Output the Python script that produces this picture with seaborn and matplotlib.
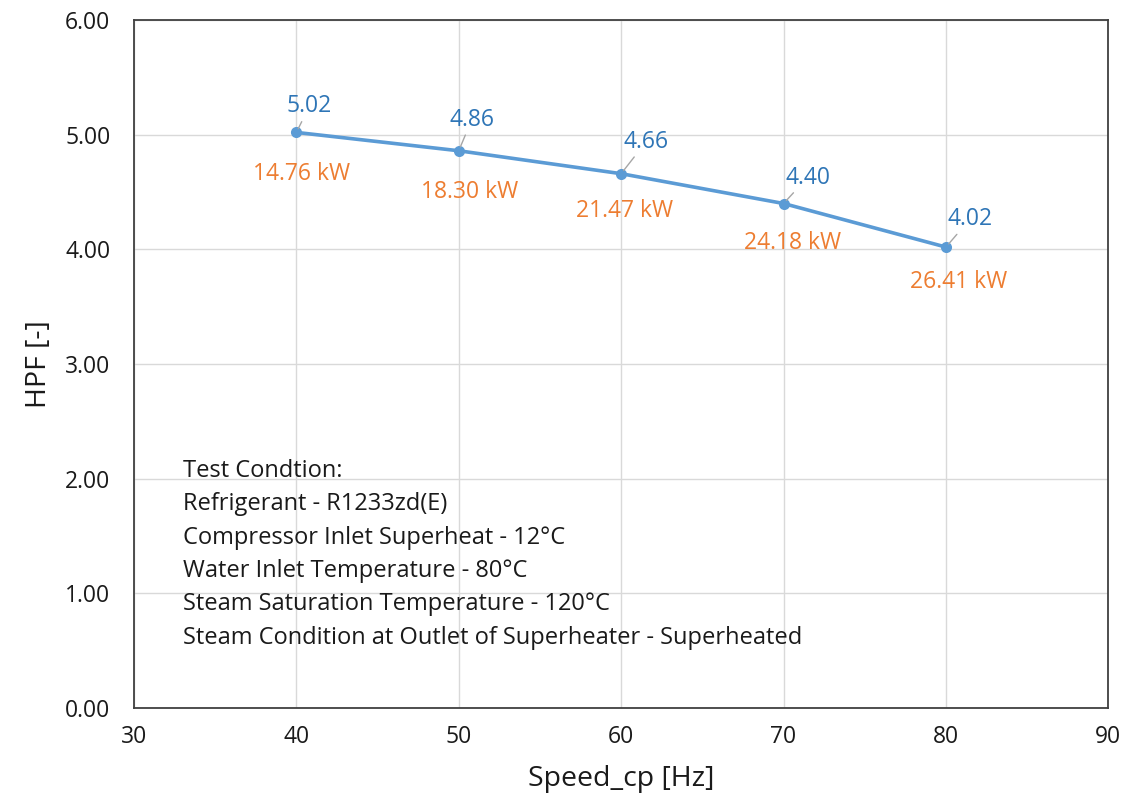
import pandas as pd
import matplotlib
matplotlib.use("Agg")
import matplotlib.pyplot as plt
import seaborn as sns

# ------------------------------------------------------------------
# dados
# ------------------------------------------------------------------
speed_hz = [40, 50, 60, 70, 80]
hpf = [5.02, 4.86, 4.66, 4.40, 4.02]
capacity_kw = [14.76, 18.30, 21.47, 24.18, 26.41]

x_ticks = [30, 40, 50, 60, 70, 80, 90]
y_ticks = [0, 1, 2, 3, 4, 5, 6]

note_lines = [
    "Test Condtion:",
    "Refrigerant - R1233zd(E)",
    "Compressor Inlet Superheat - 12°C",
    "Water Inlet Temperature - 80°C",
    "Steam Saturation Temperature - 120°C",
    "Steam Condition at Outlet of Superheater - Superheated",
]

# offsets (pixels) dos rótulos em relação aos pontos
hpf_offsets = [(13, 26), (13, 31), (25, 32), (24, 26), (24, 28)]
kw_offsets = [(5, -42), (11, -41), (3, -37), (9, -39), (13, -35)]

df = pd.DataFrame({"speed": speed_hz, "hpf": hpf, "kw": capacity_kw})

sns.set_theme(style="white")
plt.rcParams["font.family"] = ["Open Sans", "DejaVu Sans"]

line_blue = "#5B9BD5"
text_blue = "#2E75B6"
orange = "#ED7D31"
dark = "#404040"

fig = plt.figure(figsize=(11.45, 8.01), dpi=100)
ax = fig.add_axes([0.117, 0.116, 0.851, 0.859])

sns.lineplot(data=df, x="speed", y="hpf", ax=ax, color=line_blue, linewidth=2.6,
             marker="o", markersize=8, markeredgewidth=0, zorder=3)

for x, y, k, (hx, hy), (kx, ky) in zip(df["speed"], df["hpf"], df["kw"], hpf_offsets, kw_offsets):
    ax.annotate(f"{y:.2f}", (x, y), xytext=(hx, hy), textcoords="offset pixels",
                ha="center", va="center", fontsize=16.5, color=text_blue,
                arrowprops=dict(arrowstyle="-", color="#A6A6A6", lw=1.0, shrinkA=0, shrinkB=3))
    ax.annotate(f"{k:.2f} kW", (x, y), xytext=(kx, ky), textcoords="offset pixels",
                ha="center", va="center", fontsize=16.5, color=orange)

# bloco de texto com as condições de teste
y0 = 471
for i, t in enumerate(note_lines):
    fig.text(183 / 1145, 1 - (y0 + 33.3 * i) / 801, t, ha="left", va="center",
             fontsize=17, color="#1a1a1a")

ax.set_xlim(30, 90)
ax.set_ylim(0, 6)
ax.set_xticks(x_ticks)
ax.set_yticks(y_ticks)
ax.set_yticklabels([f"{v:.2f}" for v in y_ticks])
ax.tick_params(axis="both", direction="in", length=6, width=1, color=dark,
               labelsize=16.5, labelcolor="#1a1a1a")
ax.tick_params(axis="x", pad=12)
ax.tick_params(axis="y", pad=17)
ax.set_xlabel("Speed_cp [Hz]", fontsize=20.5, color="#1a1a1a", labelpad=12)
ax.set_ylabel("HPF [-]", fontsize=20.5, color="#1a1a1a", labelpad=9)
ax.grid(True, color="#D9D9D9", linewidth=1)
for s in ax.spines.values():
    s.set_color(dark)
    s.set_linewidth(1.3)

fig.savefig("out.png", dpi=100)
